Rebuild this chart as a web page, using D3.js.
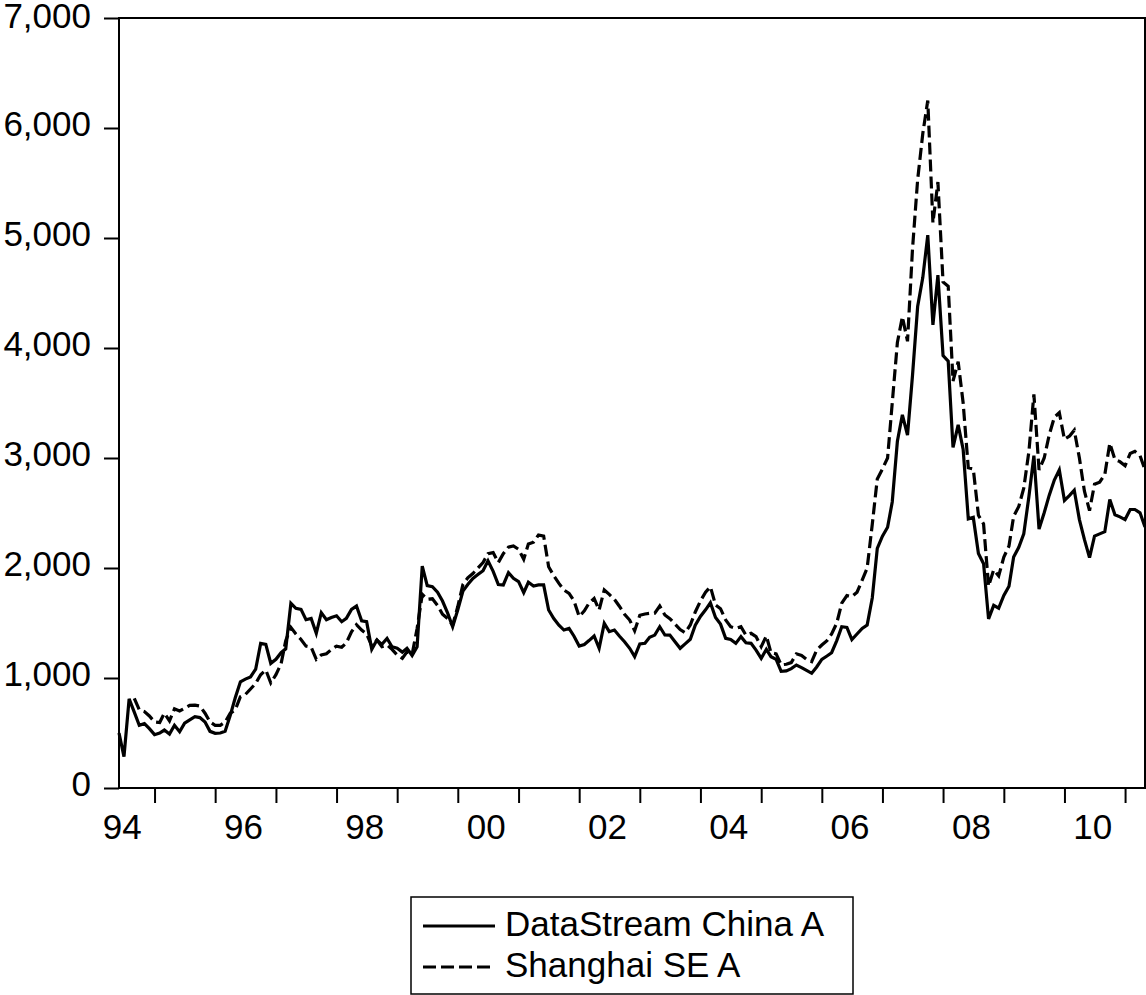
<!DOCTYPE html>
<html>
<head>
<meta charset="utf-8">
<script src="https://cdn.jsdelivr.net/npm/d3@7"></script>
<style>
  html, body { margin: 0; padding: 0; background: #fff; }
  svg { display: block; }
  text { font-family: "Liberation Sans", Arial, sans-serif; fill: #000; }
</style>
</head>
<body>
<svg id="chart" width="1146" height="995"></svg>
<script>
// ---- data (monthly, June 1994 .. May 2011) ----
const startYear = 1994, startMonth = 5; // June (0-based)
const seriesNames = ["DataStream China A", "Shanghai SE A"];
const datastreamChinaA = [
  500,285,810,690,570,585,540,485,500,527,491,570,512,590,620,648,640,600,515,497,
  500,515,660,820,966,990,1010,1080,1315,1306,1133,1170,1230,1265,1679,1633,1624,1530,1542,1406,
  1594,1530,1550,1566,1512,1542,1624,1654,1520,1512,1261,1345,1306,1360,1284,1270,1235,1270,1205,1284,
  2018,1840,1830,1780,1700,1590,1466,1620,1790,1850,1905,1940,1975,2065,1970,1850,1846,1958,1906,1876,
  1776,1870,1836,1846,1846,1618,1540,1480,1436,1451,1380,1291,1305,1340,1382,1270,1497,1421,1436,1380,
  1330,1270,1194,1309,1315,1370,1390,1466,1391,1390,1330,1270,1310,1352,1480,1560,1620,1684,1550,1490,
  1361,1350,1315,1376,1320,1315,1254,1179,1261,1194,1170,1060,1065,1085,1118,1095,1070,1043,1100,1170,
  1200,1230,1340,1466,1460,1350,1400,1451,1482,1730,2179,2290,2370,2600,3152,3393,3208,3750,4377,4640,
  5026,4210,4662,3931,3880,3097,3301,3078,2447,2460,2132,2039,1538,1660,1635,1750,1835,2100,2188,2310,
  2650,3022,2354,2502,2660,2800,2892,2614,2660,2707,2440,2260,2094,2290,2310,2330,2622,2484,2465,2440,
  2532,2532,2502,2373
];
const shanghaiSEA = [
  null,null,null,815,712,695,655,600,595,680,610,720,700,725,752,754,745,680,600,570,
  570,600,680,710,830,850,900,951,1030,1073,955,1030,1130,1340,1460,1400,1350,1290,1280,1170,
  1210,1220,1260,1290,1280,1320,1420,1485,1436,1400,1290,1345,1285,1300,1260,1209,1179,1239,1215,1450,
  1760,1715,1720,1660,1580,1540,1480,1650,1850,1910,1950,2000,2050,2130,2140,2050,2130,2190,2200,2170,
  2079,2218,2235,2300,2290,2012,1930,1860,1800,1770,1700,1558,1610,1680,1724,1618,1800,1760,1715,1650,
  1580,1527,1430,1570,1582,1588,1590,1654,1573,1540,1490,1440,1412,1482,1600,1700,1780,1830,1664,1630,
  1527,1466,1451,1466,1390,1406,1376,1285,1382,1230,1220,1120,1125,1140,1220,1205,1170,1148,1254,1300,
  1340,1400,1500,1680,1750,1740,1780,1890,2000,2400,2810,2900,3000,3500,4050,4284,4061,4900,5530,5950,
  6250,5137,5509,4600,4562,3700,3876,3500,2911,2900,2480,2400,1835,1983,1928,2100,2200,2470,2560,2725,
  3060,3579,2892,3000,3208,3370,3412,3170,3200,3253,3000,2700,2522,2762,2780,2850,3134,2985,2967,2930,
  3041,3060,3022,2892
];
const yTicks = [0, 1000, 2000, 3000, 4000, 5000, 6000, 7000];
const yearTicks = d3.range(1995, 2012);          // tick marks at each January
const yearLabels = [1994, 1996, 1998, 2000, 2002, 2004, 2006, 2008, 2010];

// ---- layout ----
const svg = d3.select("#chart");
const L = 119, R = 1145, T = 18, B = 788;
const FONT = 35;

const dates = datastreamChinaA.map((_, i) => new Date(startYear, startMonth + i, 1));
const x = d3.scaleTime()
  .domain([dates[0], dates[dates.length - 1]])
  .range([L, R]);
const y = d3.scaleLinear().domain([0, 7000]).range([B, T]);

// ---- y axis ----
const yAxis = d3.axisLeft(y).tickValues(yTicks).tickSize(15).tickPadding(13)
  .tickFormat(d3.format(","));
const gy = svg.append("g").attr("transform", `translate(${L},0)`).call(yAxis);
gy.select(".domain").remove();
gy.selectAll(".tick line").attr("stroke", "#000").attr("stroke-width", 2);
gy.selectAll(".tick text").attr("font-size", FONT)
  .attr("dy", d => d === 7000 ? "0.26em" : "0.2em")
  .attr("font-family", "Liberation Sans, Arial, sans-serif");

// ---- x axis: tick marks ----
const xTickAxis = d3.axisBottom(x)
  .tickValues(yearTicks.map(yr => new Date(yr, 0, 1)))
  .tickSize(15).tickFormat("");
const gx = svg.append("g").attr("transform", `translate(0,${B})`).call(xTickAxis);
gx.select(".domain").remove();
gx.selectAll(".tick line").attr("stroke", "#000").attr("stroke-width", 2);

// ---- x axis: labels ----
const xLabelAxis = d3.axisBottom(x)
  .tickValues(yearLabels.map(yr => new Date(yr, 5, 17)))
  .tickSize(0).tickPadding(40)
  .tickFormat(d3.timeFormat("%y"));
const gxl = svg.append("g").attr("transform", `translate(0,${B})`).call(xLabelAxis);
gxl.select(".domain").remove();
gxl.selectAll(".tick text").attr("font-size", FONT)
  .attr("font-family", "Liberation Sans, Arial, sans-serif").attr("dy", "0.3em");

// ---- lines ----
const lineGen = d3.line()
  .defined(d => d.v != null)
  .x(d => x(d.date))
  .y(d => y(d.v));

const solidData = datastreamChinaA.map((v, i) => ({ date: dates[i], v }));
const dashData = shanghaiSEA.map((v, i) => ({ date: dates[i], v }));

svg.append("path").datum(dashData)
  .attr("d", lineGen).attr("fill", "none").attr("stroke", "#000")
  .attr("stroke-width", 3.2).attr("stroke-dasharray", "12,5")
  .attr("stroke-linejoin", "miter");
svg.append("path").datum(solidData)
  .attr("d", lineGen).attr("fill", "none").attr("stroke", "#000")
  .attr("stroke-width", 3.2).attr("stroke-linejoin", "miter");

// ---- frame ----
svg.append("rect").attr("x", L).attr("y", T).attr("width", R - L).attr("height", B - T)
  .attr("fill", "none").attr("stroke", "#000").attr("stroke-width", 2);

// ---- legend ----
const lg = svg.append("g");
lg.append("rect").attr("x", 411).attr("y", 897).attr("width", 442).attr("height", 97)
  .attr("fill", "#fff").attr("stroke", "#000").attr("stroke-width", 1.5);
const legendItems = [
  { name: seriesNames[0], dash: null, ly: 926, ty: 936 },
  { name: seriesNames[1], dash: "13,5", ly: 967, ty: 977 }
];
legendItems.forEach(it => {
  lg.append("line").attr("x1", 423).attr("x2", 495).attr("y1", it.ly).attr("y2", it.ly)
    .attr("stroke", "#000").attr("stroke-width", 3.2)
    .attr("stroke-dasharray", it.dash);
  lg.append("text").attr("x", 505).attr("y", it.ty).attr("font-size", FONT).text(it.name);
});
</script>
</body>
</html>
